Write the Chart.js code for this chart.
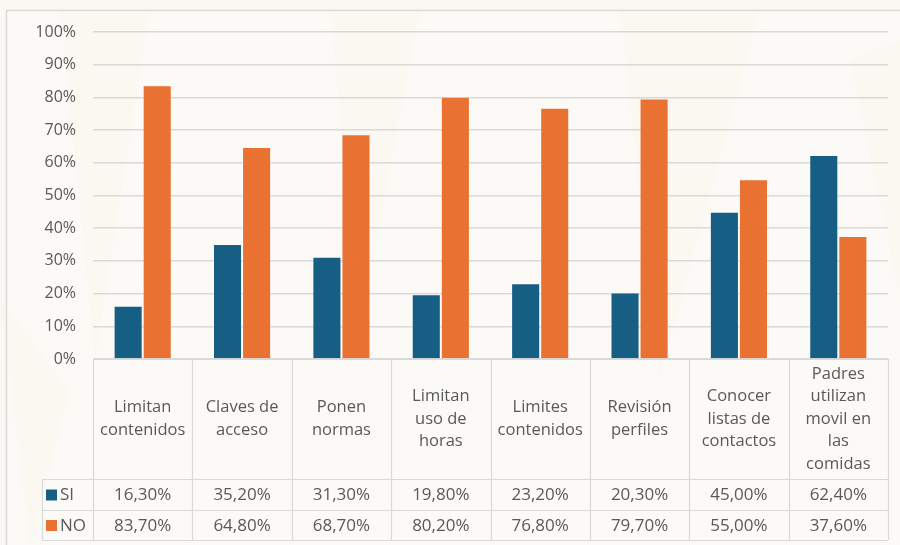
<!DOCTYPE html>
<html>
<head>
<meta charset="utf-8">
<script src="https://cdn.jsdelivr.net/npm/chart.js@4/dist/chart.umd.min.js"></script>
<style>
  html, body { margin: 0; padding: 0; background: #fbf7f2; }
  #caja { width: 900px; height: 545px; }
</style>
</head>
<body>
<div id="caja"><canvas id="grafico" width="900" height="545"></canvas></div>
<script>
  const categorias = [
    ['Limitan', 'contenidos'],
    ['Claves de', 'acceso'],
    ['Ponen', 'normas'],
    ['Limitan', 'uso de', 'horas'],
    ['Limites', 'contenidos'],
    ['Revisión', 'perfiles'],
    ['Conocer', 'listas de', 'contactos'],
    ['Padres', 'utilizan', 'movil en', 'las', 'comidas']
  ];
  const valoresSi = [16.3, 35.2, 31.3, 19.8, 23.2, 20.3, 45.0, 62.4];
  const valoresNo = [83.7, 64.8, 68.7, 80.2, 76.8, 79.7, 55.0, 37.6];
  const ticksY = [0, 10, 20, 30, 40, 50, 60, 70, 80, 90, 100];

  const COR_SI = '#165e83';
  const COR_NO = '#e97132';
  const COR_LINHA = '#d9d9d9';
  const COR_TEXTO = '#595959';
  const FONTE = '"Open Sans", "Noto Sans", sans-serif';

  const fmt = v => v.toFixed(2).replace('.', ',') + '%';

  /* ── fundo e moldura ── */
  const fundo = {
    id: 'fundo',
    beforeDraw(chart) {
      const { ctx, width, height } = chart;
      ctx.save();
      ctx.fillStyle = '#fcfaf6';
      ctx.fillRect(6, 10, width - 6, height - 10);
      // marca d'água suave
      ctx.fillStyle = 'rgba(240, 190, 150, 0.035)';
      const cunhas = [
        [[60, 10], [150, 10], [95, 360]],
        [[330, 10], [420, 10], [360, 330]],
        [[620, 10], [760, 10], [660, 380]],
        [[0, 300], [70, 390], [30, 545]],
        [[850, 60], [900, 40], [900, 300]]
      ];
      cunhas.forEach(pts => {
        ctx.beginPath();
        ctx.moveTo(pts[0][0], pts[0][1]);
        pts.slice(1).forEach(p => ctx.lineTo(p[0], p[1]));
        ctx.closePath();
        ctx.fill();
      });
      ctx.strokeStyle = COR_LINHA;
      ctx.lineWidth = 1.5;
      ctx.beginPath();
      ctx.moveTo(6.5, height);
      ctx.lineTo(6.5, 10.5);
      ctx.lineTo(width, 10.5);
      ctx.stroke();
      ctx.restore();
    }
  };

  /* ── tabela de dados ── */
  const tabela = {
    id: 'tabela',
    afterDraw(chart) {
      const { ctx, chartArea } = chart;
      const x = chart.scales.x;
      const n = categorias.length;
      const larg = (chartArea.right - chartArea.left) / n;
      const topo = chartArea.bottom;
      const yCab = topo + 120;
      const ySi = yCab + 31;
      const yFim = ySi + 30;
      const esq = 42;
      const dir = chartArea.right;

      ctx.save();
      ctx.strokeStyle = COR_LINHA;
      ctx.lineWidth = 1.2;
      ctx.beginPath();
      ctx.moveTo(chartArea.left, topo + 0.5); ctx.lineTo(dir, topo + 0.5);
      [yCab, ySi, yFim].forEach(y => { ctx.moveTo(esq, y + 0.5); ctx.lineTo(dir, y + 0.5); });
      for (let i = 0; i <= n; i++) {
        const xx = Math.round(chartArea.left + i * larg) + 0.5;
        ctx.moveTo(xx, topo); ctx.lineTo(xx, yFim);
      }
      ctx.moveTo(esq + 0.5, yCab); ctx.lineTo(esq + 0.5, yFim);
      ctx.stroke();

      ctx.fillStyle = COR_TEXTO;
      ctx.textAlign = 'center';
      ctx.textBaseline = 'middle';
      const meioCab = (topo + yCab) / 2;
      const passo = 22.5;
      categorias.forEach((linhas, i) => {
        const cx = x.getPixelForValue(i);
        const y0 = meioCab - (linhas.length - 1) * passo / 2;
        ctx.font = '16.5px ' + FONTE;
        linhas.forEach((t, k) => ctx.fillText(t, cx, y0 + k * passo));
        ctx.font = '17px ' + FONTE;
        ctx.fillText(fmt(valoresSi[i]), cx, (yCab + ySi) / 2 + 1);
        ctx.fillText(fmt(valoresNo[i]), cx, (ySi + yFim) / 2 + 1);
      });

      // legenda dentro da tabela
      ctx.textAlign = 'left';
      ctx.font = '17px ' + FONTE;
      [[COR_SI, 'SI', (yCab + ySi) / 2], [COR_NO, 'NO', (ySi + yFim) / 2]].forEach(([cor, txt, cy]) => {
        ctx.fillStyle = cor;
        ctx.fillRect(46, cy - 5, 11, 11);
        ctx.fillStyle = COR_TEXTO;
        ctx.fillText(txt, 60, cy + 1);
      });
      ctx.restore();
    }
  };

  new Chart(document.getElementById('grafico'), {
    type: 'bar',
    data: {
      labels: categorias,
      datasets: [
        {
          label: 'SI', data: valoresSi, backgroundColor: COR_SI,
          borderColor: 'rgba(255,255,255,0.25)', borderWidth: 1,
          categoryPercentage: 0.585, barPercentage: 1
        },
        {
          label: 'NO', data: valoresNo, backgroundColor: COR_NO,
          borderColor: 'rgba(255,255,255,0.25)', borderWidth: 1,
          categoryPercentage: 0.585, barPercentage: 1
        }
      ]
    },
    options: {
      responsive: false,
      animation: false,
      layout: { padding: { top: 32, right: 12, bottom: 186, left: 0 } },
      plugins: {
        legend: { display: false },
        tooltip: { enabled: false }
      },
      scales: {
        x: { display: false },
        y: {
          min: 0, max: 100,
          afterFit(s) { s.width = 93; },
          afterBuildTicks(s) { s.ticks = ticksY.map(v => ({ value: v })); },
          ticks: {
            color: COR_TEXTO,
            padding: 17,
            font: { size: 16, family: FONTE },
            callback: v => v + '%'
          },
          grid: { color: COR_LINHA, lineWidth: 1.5, drawTicks: false },
          border: { display: false }
        }
      }
    },
    plugins: [fundo, tabela]
  });
</script>
</body>
</html>
